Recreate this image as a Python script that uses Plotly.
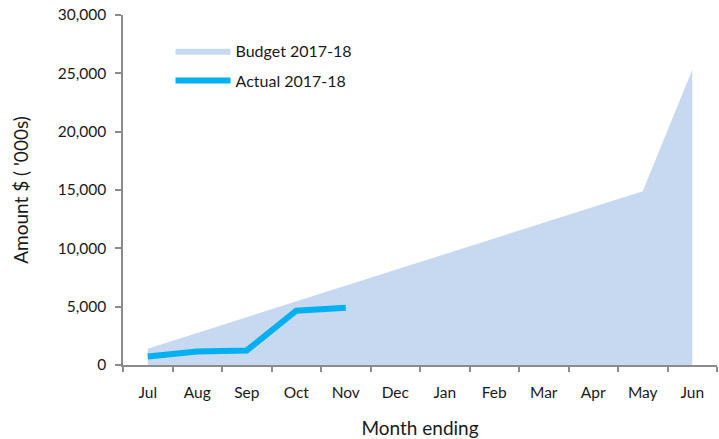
import plotly.graph_objects as go

months = ["Jul", "Aug", "Sep", "Oct", "Nov", "Dec", "Jan", "Feb", "Mar", "Apr", "May", "Jun"]
budget = [1400, 2750, 4100, 5450, 6800, 8150, 9500, 10850, 12200, 13550, 14900, 25300]
actual_months = ["Jul", "Aug", "Sep", "Oct", "Nov"]
actual = [720, 1150, 1250, 4650, 4900]
y_ticks = [0, 5000, 10000, 15000, 20000, 25000, 30000]

FONT = "Lato"
AXIS_COLOR = "#8c8c8c"

fig = go.Figure()
fig.add_trace(go.Scatter(
    x=months, y=budget, name="Budget 2017-18", mode="lines",
    fill="tozeroy", fillcolor="#C6D9F0", line=dict(width=0, color="#C6D9F0"),
    legendgroup="b",
))
fig.add_trace(go.Scatter(
    x=actual_months, y=actual, name="Actual 2017-18", mode="lines",
    line=dict(width=6, color="#00B0F0"), legendgroup="a",
))

fig.update_layout(
    width=719, height=439,
    margin=dict(l=123, r=2, t=15, b=74),
    paper_bgcolor="white", plot_bgcolor="white",
    font=dict(family=FONT, size=15.5, color="#1a1a1a"),
    showlegend=True,
    legend=dict(x=0.08, y=0.946, xanchor="left", yanchor="top",
                bgcolor="rgba(0,0,0,0)", font=dict(size=16),
                tracegroupgap=6, traceorder="grouped", itemwidth=55),
    xaxis=dict(
        categoryorder="array", categoryarray=months,
        range=[-0.5, 11.5], showline=True, linecolor=AXIS_COLOR, linewidth=1.5,
        ticks="outside", tickson="boundaries", ticklen=5, tickcolor=AXIS_COLOR,
        tickwidth=1.5, showgrid=False, zeroline=False, ticklabelstandoff=13,
        title=dict(text="Month ending", standoff=22, font=dict(size=19)),
        fixedrange=True,
    ),
    yaxis=dict(
        range=[0, 30000], tickvals=y_ticks, tickformat=",d",
        showline=True, linecolor=AXIS_COLOR, linewidth=1.5,
        ticks="outside", ticklen=6, tickcolor=AXIS_COLOR, tickwidth=1.5,
        showgrid=False, zeroline=False, ticklabelstandoff=6,
        title=dict(text="Amount $ ( '000s)", standoff=24, font=dict(size=19)),
        fixedrange=True,
    ),
)

fig.write_html("out.html", config={"displayModeBar": False},
               post_script="document.body.style.margin='0';")
